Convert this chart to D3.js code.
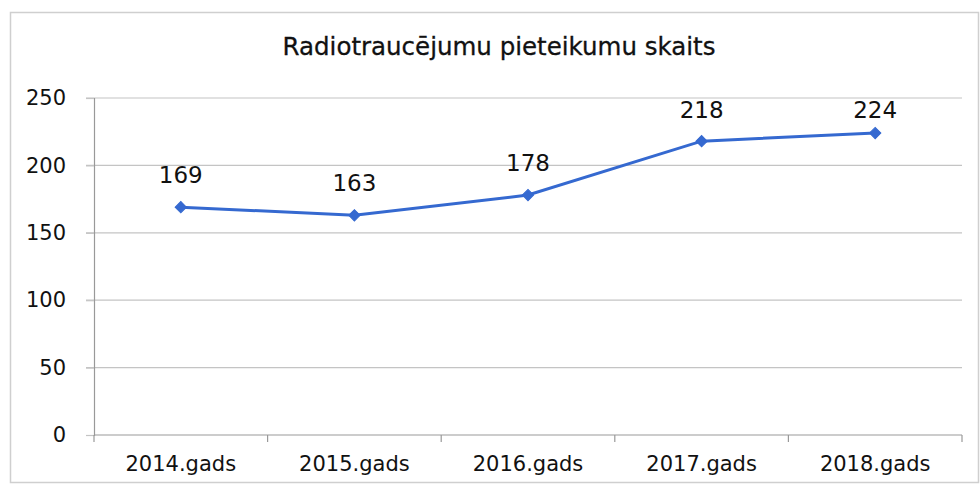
<!DOCTYPE html>
<html>
<head>
<meta charset="utf-8">
<script src="https://cdn.jsdelivr.net/npm/d3@7"></script>
<style>
  body { margin: 0; background: #fff; }
</style>
</head>
<body>
<script>
    //Data
        const categories = ["2014.gads", "2015.gads", "2016.gads", "2017.gads", "2018.gads"];
        const values = [169, 163, 178, 218, 224];
        const yTicks = [0, 50, 100, 150, 200, 250];
        const title = "Radiotraucējumu pieteikumu skaits";

    //Consts
        const width = 980;
        const height = 488;
        const plotLeft = 94, plotRight = 962, plotTop = 98, plotBottom = 435;
        const lineColor = "#3569d0";

    //SVG
        const svg = d3.select("body")
                    .append("svg")
                    .attr("width", width)
                    .attr("height", height);

        // outer frame
        svg.append("rect")
            .attr("x", 10.5).attr("y", 12.5)
            .attr("width", 968).attr("height", 470)
            .attr("fill", "none")
            .attr("stroke", "#cfcfcf")
            .attr("stroke-width", 1.5);

    //Scales
        const xScale = d3.scaleBand()
                        .domain(categories)
                        .range([plotLeft, plotRight]);

        const yScale = d3.scaleLinear()
                        .domain([0, 250])
                        .range([plotBottom, plotTop]);

    //Title
        svg.append("text")
            .attr("x", 499).attr("y", 55)
            .attr("text-anchor", "middle")
            .attr("font-family", "'DejaVu Sans', sans-serif")
            .attr("font-size", 24.5)
            .attr("fill", "#111")
            .attr("stroke", "#111")
            .attr("stroke-width", 0.3)
            .text(title);

    //Gridlines
        svg.append("g")
            .selectAll("line")
            .data(yTicks.filter(d => d > 0))
            .enter()
            .append("line")
            .attr("x1", plotLeft - 8).attr("x2", plotRight)
            .attr("y1", d => yScale(d)).attr("y2", d => yScale(d))
            .attr("stroke", "#c4c4c4")
            .attr("stroke-width", 1.2);

    //Axes
        const leftAxis = d3.axisLeft(yScale)
                           .tickValues(yTicks)
                           .tickSize(8)
                           .tickPadding(20);

        const yg = svg.append("g")
            .attr("transform", "translate(" + plotLeft + ",0)")
            .call(leftAxis);
        yg.select(".domain").attr("stroke", "#999").attr("stroke-width", 1.2);
        yg.selectAll(".tick line").attr("stroke", "#c4c4c4").attr("stroke-width", 1.2);
        yg.selectAll("text")
            .attr("font-family", "'DejaVu Sans', sans-serif")
            .attr("font-size", 21)
            .attr("fill", "#111");

        // bottom axis: ticks at category boundaries
        const boundaries = categories.map(c => xScale(c)).concat([plotRight]);
        const xg = svg.append("g");
        xg.append("line")
            .attr("x1", plotLeft).attr("x2", plotRight)
            .attr("y1", plotBottom).attr("y2", plotBottom)
            .attr("stroke", "#999").attr("stroke-width", 1.2);
        xg.selectAll("line.tk")
            .data(boundaries)
            .enter()
            .append("line")
            .attr("class", "tk")
            .attr("x1", d => d).attr("x2", d => d)
            .attr("y1", plotBottom).attr("y2", plotBottom + 7)
            .attr("stroke", "#999").attr("stroke-width", 1.2);
        xg.selectAll("text")
            .data(categories)
            .enter()
            .append("text")
            .attr("x", d => xScale(d) + xScale.bandwidth() / 2)
            .attr("y", 471)
            .attr("text-anchor", "middle")
            .attr("font-family", "'DejaVu Sans', sans-serif")
            .attr("font-size", 21)
            .attr("fill", "#111")
            .text(d => d);

    //Line
        const cx = (d, i) => xScale(categories[i]) + xScale.bandwidth() / 2;
        const line = d3.line()
            .x((d, i) => cx(d, i))
            .y(d => yScale(d));

        svg.append("path")
            .datum(values)
            .attr("d", line)
            .attr("fill", "none")
            .attr("stroke", lineColor)
            .attr("stroke-width", 3);

        svg.selectAll("path.marker")
            .data(values)
            .enter()
            .append("path")
            .attr("class", "marker")
            .attr("d", d3.symbol().type(d3.symbolSquare).size(64))
            .attr("transform", (d, i) => "translate(" + cx(d, i) + "," + yScale(d) + ") rotate(45)")
            .attr("fill", lineColor)
            .attr("stroke", lineColor);

    //Data labels
        svg.selectAll("text.lbl")
            .data(values)
            .enter()
            .append("text")
            .attr("class", "lbl")
            .attr("x", (d, i) => cx(d, i))
            .attr("y", d => Math.max(yScale(d) - 24, 118))
            .attr("text-anchor", "middle")
            .attr("font-family", "'DejaVu Sans', sans-serif")
            .attr("font-size", 23)
            .attr("fill", "#111")
            .text(d => d);
</script>
</body>
</html>
